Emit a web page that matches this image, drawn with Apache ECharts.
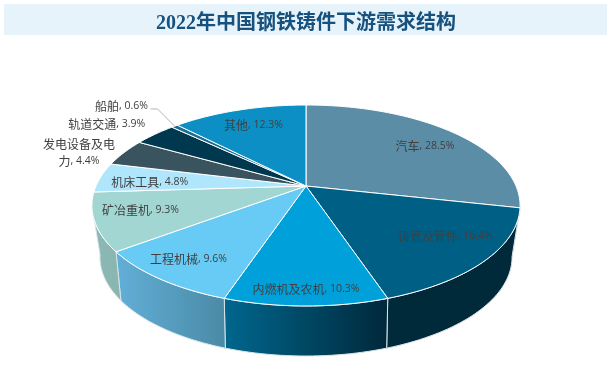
<!DOCTYPE html>
<html>
<head>
<meta charset="utf-8">
<script src="https://cdn.jsdelivr.net/npm/echarts@6/dist/echarts.min.js"></script>
<style>
  html, body { margin: 0; padding: 0; background: #fff; }
  #chart { width: 614px; height: 379px; }
</style>
</head>
<body>
<div id="chart"></div>
<script>
const titleText = '2022年中国钢铁铸件下游需求结构';
const categories = ['汽车', '铸管及管件', '内燃机及农机', '工程机械', '矿冶重机', '机床工具', '发电设备及电\n力', '轨道交通', '船舶', '其他'];
const shares = [28.5, 16.4, 10.3, 9.6, 9.3, 4.8, 4.4, 3.9, 0.6, 12.3];

const topColors = ['#5b8da6', '#005f85', '#00a0da', '#68cbf5', '#a1d6d2', '#b0e6fb', '#39545f', '#00384f', '#1c6e8f', '#0c8fc5'];
const sideColors = [
  ['#00293a', '#00293a'],
  ['#00293a', '#00293a'],
  ['#00678e', '#00283a'],
  ['#62afd8', '#4a8aa6'],
  ['#8cb9b5', '#8ab5b0'],
  ['#8ab5b0', '#8ab5b0'],
  ['#39545f', '#39545f'],
  ['#00384f', '#00384f'],
  ['#1c6e8f', '#1c6e8f'],
  ['#0c8fc5', '#0c8fc5']
];
// 标签相对扇区半径的位置 [x比例, y比例]
const labelFractions = [[0.815, 0.74], [0.776, 0.672], [0.86, 0.86], [0.806, 0.785], [0.784, 0.67], [0.76, 0.47], [1.247, 0.99], [1.318, 1.2], [1.404, 1.338], [0.784, 0.803]];

// 椭圆透视参数
const cx = 306;
const topRing = { apexY: 186, rx: 210, ry: 96.7, k: 0.194 };
const bottomRing = { apexY: 235.5, rx: 201, ry: 94, k: 0.22 };
const total = shares.reduce((a, b) => a + b, 0);

function project(ring, t) {
  const w = 1 + ring.k * Math.cos(t);
  return [cx + ring.rx * Math.sin(t) / w, ring.apexY - ring.ry * Math.cos(t) / w];
}

function sliceRange(index) {
  let before = 0;
  for (let i = 0; i < index; i++) before += shares[i];
  return [before / total * Math.PI * 2, (before + shares[index]) / total * Math.PI * 2];
}

function arcPoints(ring, from, to) {
  const steps = Math.max(2, Math.ceil(Math.abs(to - from) * 40));
  const pts = [];
  for (let i = 0; i <= steps; i++) pts.push(project(ring, from + (to - from) * i / steps));
  return pts;
}

function renderSide(params) {
  const idx = params.dataIndex;
  const range = sliceRange(idx);
  const edgeAngle = Math.acos(-topRing.k);
  const from = Math.max(range[0], edgeAngle);
  const to = Math.min(range[1], Math.PI * 2 - edgeAngle);
  if (to <= from) return { type: 'group', children: [] };
  const points = arcPoints(topRing, from, to).concat(arcPoints(bottomRing, to, from));
  return {
    type: 'polygon',
    shape: { points: points },
    style: {
      fill: {
        type: 'linear', x: 0, y: 0, x2: 1, y2: 0,
        colorStops: [{ offset: 0, color: sideColors[idx][0] }, { offset: 1, color: sideColors[idx][1] }]
      },
      stroke: '#d9e4ea',
      lineWidth: 1
    }
  };
}

function renderTop(params) {
  const idx = params.dataIndex;
  const range = sliceRange(idx);
  const points = [[cx, topRing.apexY]].concat(arcPoints(topRing, range[0], range[1]));
  const mid = (range[0] + range[1]) / 2;
  const rim = project(topRing, mid);
  const frac = labelFractions[idx];
  const lx = cx + (rim[0] - cx) * frac[0];
  const ly = topRing.apexY + (rim[1] - topRing.apexY) * frac[1];
  const children = [{
    type: 'polygon',
    shape: { points: points },
    style: { fill: topColors[idx], stroke: '#ffffff', lineWidth: 1 }
  }, {
    type: 'text',
    z2: 10,
    x: lx,
    y: ly,
    style: {
      text: '{n|' + categories[idx].split('\n').join('}\n{n|') + '}{v|, ' + shares[idx].toFixed(1) + '%}',
      align: 'center',
      verticalAlign: 'middle',
      rich: {
        n: { fontFamily: 'Noto Sans CJK SC', fontSize: 12, lineHeight: 17, fill: '#404040', color: '#404040' },
        v: { fontFamily: 'Open Sans', fontSize: 10.5, lineHeight: 17, fill: '#404040', color: '#404040' }
      }
    }
  }];
  if (categories[idx] === '船舶') {
    children.push({
      type: 'polyline',
      z2: 9,
      shape: { points: [[lx + 29, ly + 3], [lx + 36, ly + 3], rim] },
      style: { stroke: '#b5b5b5', lineWidth: 1, fill: null }
    });
  }
  return { type: 'group', children: children };
}

const chart = echarts.init(document.getElementById('chart'), null, { renderer: 'canvas' });
chart.setOption({
  animation: false,
  backgroundColor: '#ffffff',
  title: {
    text: titleText,
    left: 301,
    textAlign: 'center',
    top: 9,
    textStyle: { fontFamily: '"Liberation Serif", "Noto Sans CJK SC"', fontSize: 20, fontWeight: 'bold', color: '#17527e' }
  },
  graphic: [{
    type: 'rect',
    z: -1,
    shape: { x: 4, y: 4, width: 603, height: 31 },
    style: { fill: '#e6f3fb' },
    silent: true
  }],
  series: [
    { type: 'custom', name: '侧面', coordinateSystem: 'none', data: shares, renderItem: renderSide, silent: true, z: 1 },
    { type: 'custom', name: '下游需求', coordinateSystem: 'none', data: shares, renderItem: renderTop, silent: true, z: 2 }
  ]
});
</script>
</body>
</html>
